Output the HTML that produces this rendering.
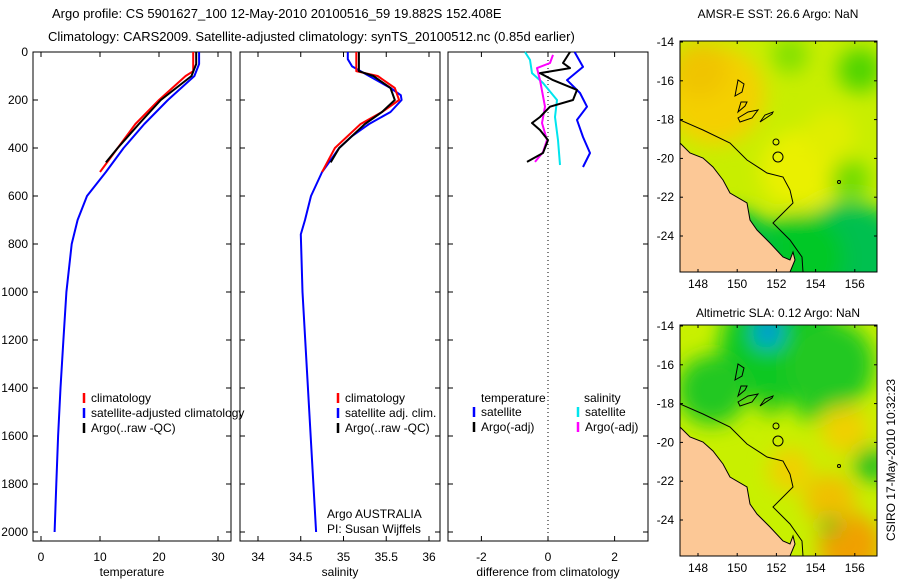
<!DOCTYPE html>
<html><head><meta charset="utf-8"><style>
body{margin:0;background:#fff;width:900px;height:580px;overflow:hidden;font-family:"Liberation Sans",sans-serif}
svg text{font-family:"Liberation Sans",sans-serif;font-size:12px;fill:#000}
</style></head><body>
<svg id="fig" width="900" height="580" xmlns="http://www.w3.org/2000/svg">
<defs>
<filter id="bl" x="-50%" y="-50%" width="200%" height="200%"><feGaussianBlur stdDeviation="10"/></filter>
<clipPath id="c1"><rect x="680" y="41" width="197" height="231"/></clipPath>
<clipPath id="c2"><rect x="680" y="325" width="197" height="231"/></clipPath>
</defs>
<text x="52" y="18" style="font-size:13px">Argo profile: CS 5901627_100 12-May-2010 20100516_59 19.882S 152.408E</text>
<text x="48" y="41" style="font-size:13px">Climatology: CARS2009. Satellite-adjusted climatology: synTS_20100512.nc (0.85d earlier)</text>
<g id="plots"></g>
<g id="maps"></g>
<text x="778" y="18" text-anchor="middle">AMSR-E SST: 26.6 Argo: NaN</text>
<text x="778" y="317" text-anchor="middle">Altimetric SLA: 0.12 Argo: NaN</text>
<text transform="translate(895,460) rotate(-90)" text-anchor="middle">CSIRO 17-May-2010 10:32:23</text>
</svg>
<script>
// ---- data ----
const tBlueD=[0,50,100,200,300,400,500,600,700,800,1000,1200,1400,1600,1800,2000];
const tBlueV=[26.8,26.8,26,21.5,17.5,14,11,7.8,6.2,5.2,4.3,3.8,3.3,2.9,2.6,2.3];
const tRedD=[0,80,100,200,300,400,500];
const tRedV=[25.8,25.8,24.5,20,16,13,10];
const tBlkD=[0,50,100,200,300,400,460];
const tBlkV=[26.3,26.3,25.5,20.3,16.6,13,11];
const sBlueD=[0,30,60,100,150,180,200,250,300,350,400,450,500,600,700,760,1000,1500,2000];
const sBlueV=[35.05,35.05,35.1,35.3,35.55,35.67,35.68,35.55,35.3,35.1,34.95,34.85,34.75,34.62,34.55,34.5,34.52,34.6,34.68];
const sRedD=[0,80,100,150,200,250,300,400,500];
const sRedV=[35.15,35.15,35.4,35.6,35.65,35.45,35.2,34.9,34.75];
const sBlkD=[0,80,100,150,200,250,300,400,460];
const sBlkV=[35.18,35.18,35.35,35.55,35.6,35.45,35.25,34.95,34.85];
const dSatTD=[0,62,117,171,228,283,354,421,479];
const dSatTV=[0.8,1.05,0.57,0.96,1.17,0.87,1.05,1.26,1.05];
const dArgTD=[0,46,67,88,117,158,200,228,271,296,325,367,421,458];
const dArgTV=[0.66,0.45,0.66,-0.24,0.15,0.87,0.75,0.06,-0.24,-0.48,-0.24,0,-0.15,-0.63];
const dSatSD=[0,33,88,129,200,271,367,471];
const dSatSV=[-0.69,-0.54,-0.48,-0.15,0.27,0.21,0.3,0.36];
const dArgSD=[12,46,67,117,228,296,367,417,458];
const dArgSV=[0.15,0.06,-0.33,-0.24,-0.09,-0.18,-0.03,-0.15,-0.39];
const depthTicks=[0,200,400,600,800,1000,1200,1400,1600,1800,2000];
const tTicks=[0,10,20,30];
const sTicks=[34,34.5,35,35.5,36];
const dTicks=[-2,0,2];
const latTicks=[-14,-16,-18,-20,-22,-24];
const lonTicks=[148,150,152,154,156];

const NS='http://www.w3.org/2000/svg';
function mk(tag,attrs,parent){const e=document.createElementNS(NS,tag);for(const k in attrs)e.setAttribute(k,attrs[k]);parent.appendChild(e);return e;}
const plots=document.getElementById('plots');
const yD=d=>52+0.24*d;
const panels=[
 {x0:33,x1:231,sc:v=>41+5.9*v,ticks:tTicks,lab:'temperature',name:'temperature'},
 {x0:240,x1:440,sc:v=>258+85.5*(v-34),ticks:sTicks,lab:'salinity',name:'salinity'},
 {x0:448,x1:648,sc:v=>548+33.3*v,ticks:dTicks,lab:'difference from climatology',name:'difference'}
];
function line(p,D,V,col,w,name){
  const pts=D.map((d,i)=>p.sc(V[i]).toFixed(1)+','+yD(d).toFixed(1)).join(' ');
  const e=mk('polyline',{points:pts,fill:'none',stroke:col,'stroke-width':w,'stroke-linejoin':'round'},plots);
  
  
}
panels.forEach((p,pi)=>{
  const g=mk('rect',{x:p.x0,y:52,width:p.x1-p.x0,height:489,fill:'none',stroke:'#000','stroke-width':1},plots);
  
  
  p.ticks.forEach(t=>{const x=p.sc(t);
    mk('line',{x1:x,x2:x,y1:52,y2:57,stroke:'#000'},plots);mk('line',{x1:x,x2:x,y1:541,y2:536,stroke:'#000'},plots);
    const tx=mk('text',{x:x,y:561,'text-anchor':'middle'},plots);tx.textContent=t;
    
    });
  depthTicks.forEach(d=>{const y=yD(d);
    mk('line',{x1:p.x0,x2:p.x0+5,y1:y,y2:y,stroke:'#000'},plots);mk('line',{x1:p.x1,x2:p.x1-5,y1:y,y2:y,stroke:'#000'},plots);
    if(pi==0){const tx=mk('text',{x:28,y:y+4,'text-anchor':'end'},plots);tx.textContent=d;
      
      }});
  const xl=mk('text',{x:(p.x0+p.x1)/2,y:576,'text-anchor':'middle'},plots);xl.textContent=p.lab;
  
  
});
const zl=mk('line',{x1:548,x2:548,y1:52,y2:541,stroke:'#000','stroke-dasharray':'1,3'},plots);


line(panels[0],tBlueD,tBlueV,'#0000ff',2,'temp-satellite-line');
line(panels[0],tRedD,tRedV,'#ff0000',2,'temp-climatology-line');
line(panels[0],tBlkD,tBlkV,'#000',2,'temp-argo-line');
line(panels[1],sBlueD,sBlueV,'#0000ff',2,'sal-satellite-line');
line(panels[1],sRedD,sRedV,'#ff0000',2,'sal-climatology-line');
line(panels[1],sBlkD,sBlkV,'#000',2,'sal-argo-line');
line(panels[2],dSatTD,dSatTV,'#0000ff',2,'diff-temp-satellite-line');
line(panels[2],dSatSD,dSatSV,'#00e5ee',2,'diff-sal-satellite-line');
line(panels[2],dArgSD,dArgSV,'#ff00ff',2,'diff-sal-argo-line');
line(panels[2],dArgTD,dArgTV,'#000',2,'diff-temp-argo-line');
function leg(x,y,col,txt,name){
  mk('line',{x1:x,x2:x,y1:y-9,y2:y+1,stroke:col,'stroke-width':2.5},plots);
  const t=mk('text',{x:x+7,y:y},plots);t.textContent=txt;
  
  
}
leg(84,402,'#ff0000','climatology','legend-climatology');
leg(84,417,'#0000ff','satellite-adjusted climatology','legend-satellite');
leg(84,432,'#000','Argo(..raw -QC)','legend-argo');
leg(338,402,'#ff0000','climatology','legend2-climatology');
leg(338,417,'#0000ff','satellite adj. clim.','legend2-satellite');
leg(338,432,'#000','Argo(..raw -QC)','legend2-argo');
{const t=mk('text',{x:481,y:402},plots);t.textContent='temperature';


const s=mk('text',{x:584,y:402},plots);s.textContent='salinity';

}
leg(474,416,'#0000ff','satellite','legend3-temp-satellite');
leg(474,431,'#000','Argo(-adj)','legend3-temp-argo');
leg(578,416,'#00e5ee','satellite','legend3-sal-satellite');
leg(578,431,'#ff00ff','Argo(-adj)','legend3-sal-argo');
{const a=mk('text',{x:327,y:518},plots);a.textContent='Argo AUSTRALIA';


const b=mk('text',{x:327,y:533},plots);b.textContent='PI: Susan Wijffels';

}

// ---- maps ----
const sstBlobs=[[715,95,50,'#f4d000'],[700,70,28,'#f0c400'],[800,170,40,'#eaf000'],[850,262,60,'#00c050'],[800,258,45,'#00c828'],[740,245,35,'#00c040'],[860,70,22,'#50d400'],[850,180,20,'#70dc00'],[790,55,18,'#80e000'],[830,135,25,'#e0ee00']];
const slaBlobs=[[780,345,60,'#10c820'],[830,365,45,'#20c820'],[712,390,35,'#20c820'],[768,333,16,'#00b0d0'],[768,330,8,'#0060e8'],[850,545,32,'#f0a000'],[845,430,24,'#f0d000'],[830,500,26,'#f0c000'],[790,470,22,'#f0d000'],[872,465,18,'#20c020'],[830,525,9,'#20c020'],[770,405,11,'#30c818'],[810,410,12,'#20c820']];
const mapsG=document.getElementById('maps');
function map(y0,blobs,base,clip,name){
  const g=mk('g',{'clip-path':'url(#'+clip+')'},mapsG);
  
  
  mk('rect',{x:680,y:y0,width:197,height:231,fill:base},g);
  const bg=mk('g',{filter:'url(#bl)'},g);
  blobs.forEach(b=>mk('circle',{cx:b[0],cy:b[1],r:b[2],fill:b[3]},bg));
  const dy=y0-41;
  const land=[[680,143],[690,153],[703,158],[713,167],[723,180],[730,193],[747,203],[750,220],[757,230],[770,243],[783,257],[790,260],[793,252],[795,260],[790,272],[680,272]];
  const lp=mk('polygon',{points:land.map(p=>p[0]+','+(p[1]+dy)).join(' '),fill:'#fcc896',stroke:'#000','stroke-width':1},g);
  
  
  const shelf=[[680,120],[703,130],[730,143],[747,160],[767,173],[783,177],[790,190],[793,203],[773,223],[790,240],[802,257],[803,272]];
  mk('polyline',{points:shelf.map(p=>p[0]+','+(p[1]+dy)).join(' '),fill:'none',stroke:'#000','stroke-width':1},g);
  [[733,88,'735,96 742,92 744,84 738,80'],[738,108,'738,112 745,106 747,102 741,102'],[745,118,'738,118 748,112 758,110 752,118 740,122'],[765,118,'760,122 772,114 773,112 765,115']].forEach(r=>
    mk('polygon',{points:r[2].split(' ').map(s=>{const q=s.split(',');return q[0]+','+(+q[1]+dy);}).join(' '),fill:'none',stroke:'#000'},g));
  mk('circle',{cx:776,cy:142+dy,r:3,fill:'none',stroke:'#000'},g);
  mk('circle',{cx:778,cy:157+dy,r:5,fill:'none',stroke:'#000'},g);
  mk('circle',{cx:839,cy:182+dy,r:1.5,fill:'none',stroke:'#000'},g);
  mk('rect',{x:680,y:y0,width:197,height:231,fill:'none',stroke:'#000'},mapsG);
  const lonX=l=>698+19.6*(l-148), latY=l=>y0+1+19.4*(-14-l);
  lonTicks.forEach(l=>{const x=lonX(l);
    mk('line',{x1:x,x2:x,y1:y0,y2:y0+3,stroke:'#000'},mapsG);mk('line',{x1:x,x2:x,y1:y0+231,y2:y0+228,stroke:'#000'},mapsG);
    const t=mk('text',{x:x,y:y0+247,'text-anchor':'middle'},mapsG);t.textContent=l;
    
    });
  latTicks.forEach(l=>{const y=latY(l);
    mk('line',{x1:680,x2:683,y1:y,y2:y,stroke:'#000'},mapsG);mk('line',{x1:877,x2:874,y1:y,y2:y,stroke:'#000'},mapsG);
    const t=mk('text',{x:674,y:y+4,'text-anchor':'end'},mapsG);t.textContent=l;
    
    });
}
map(41,sstBlobs,'#c8ee00','c1','sst-map');
map(325,slaBlobs,'#c8f000','c2','sla-map');
</script>
</body></html>
